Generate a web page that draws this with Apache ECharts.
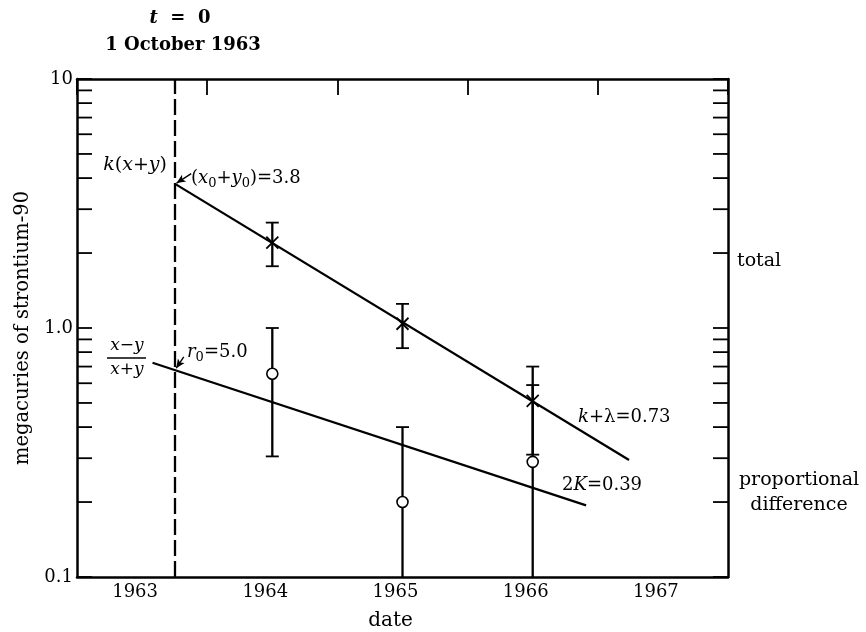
<!DOCTYPE html>
<html>
<head>
<meta charset="utf-8">
<script src="https://cdn.jsdelivr.net/npm/echarts@6/dist/echarts.min.js"></script>
</head>
<body style="margin:0;background:#fff">
<div id="main" style="width:866px;height:632px;"></div>
<script>
// dates are decimal years, t = 0 is 1 October 1963
var yearLabels = ['1963', '1964', '1965', '1966', '1967'];
var yMajor = [0.1, 1, 10];
var yMajorText = ['0.1', '1.0', '10'];
var yMinor = [0.2, 0.3, 0.4, 0.5, 0.6, 0.7, 0.8, 0.9, 2, 3, 4, 5, 6, 7, 8, 9];
var tZero = 1963.75;

var sampleDates = [1964.5, 1965.5, 1966.5];
// total (crosses) with error bars
var totalVal = [2.2, 1.04, 0.51];
var totalLow = [1.77, 0.83, 0.31];
var totalHigh = [2.65, 1.25, 0.70];
// proportional difference (circles) with error bars
var diffVal = [0.655, 0.20, 0.29];
var diffLow = [0.305, 0.1, 0.1];
var diffHigh = [1.0, 0.40, 0.59];

// fitted lines, read at both ends
var totalFit = [[1963.75, 3.8], [1967.24, 0.295]];
var diffFit = [[1963.58, 0.725], [1966.91, 0.194]];

var serif = 'DejaVu Serif';
var black = '#000';

function errorBars(kind, val, low, high) {
	var data = sampleDates.map(function (d, i) { return [d, val[i], low[i], high[i]]; });
	return {
		type: 'custom',
		z: 5,
		silent: true,
		data: data,
		renderItem: function (params, api) {
			var x = api.value(0);
			var p = api.coord([x, api.value(1)]);
			var lo = api.coord([x, api.value(2)]);
			var hi = api.coord([x, api.value(3)]);
			var bottom = params.coordSys.y + params.coordSys.height;
			var bar = {stroke: black, lineWidth: 2.3};
			var cap = {stroke: black, lineWidth: 1.8};
			var kids = [
				{type: 'line', shape: {x1: p[0], y1: hi[1], x2: p[0], y2: lo[1]}, style: bar},
				{type: 'line', shape: {x1: p[0] - 6.5, y1: hi[1], x2: p[0] + 6.5, y2: hi[1]}, style: cap}
			];
			if (lo[1] < bottom - 1) {
				kids.push({type: 'line', shape: {x1: p[0] - 6.5, y1: lo[1], x2: p[0] + 6.5, y2: lo[1]}, style: cap});
			}
			if (kind === 'cross') {
				kids.push({type: 'line', shape: {x1: p[0] - 6, y1: p[1] - 6, x2: p[0] + 6, y2: p[1] + 6}, style: cap});
				kids.push({type: 'line', shape: {x1: p[0] - 6, y1: p[1] + 6, x2: p[0] + 6, y2: p[1] - 6}, style: cap});
			} else {
				kids.push({type: 'circle', shape: {cx: p[0], cy: p[1], r: 5.5}, style: {fill: '#fff', stroke: black, lineWidth: 1.6}});
			}
			return {type: 'group', children: kids};
		}
	};
}

var rich = {
	n: {fontFamily: serif, fontSize: 19, lineHeight: 24, color: black},
	i: {fontFamily: serif, fontSize: 19, lineHeight: 24, fontStyle: 'italic', color: black},
	s: {fontFamily: serif, fontSize: 13, lineHeight: 13, verticalAlign: 'bottom', color: black}
};

function label(x, y, text, align, size) {
	var r = JSON.parse(JSON.stringify(rich));
	if (size) {
		r.n.fontSize = size; r.i.fontSize = size;
	}
	return {
		type: 'text', x: x, y: y, silent: true,
		style: {text: text, rich: r, align: align || 'left', verticalAlign: 'middle', fill: black, font: '19px ' + serif}
	};
}

var axisLine = {onZero: false, lineStyle: {color: black, width: 2.5}};

option = {
	backgroundColor: '#fff',
	animation: false,
	grid: {left: 77, right: 138, top: 79, bottom: 55, outerBoundsMode: 'none', containLabel: false},
	xAxis: [{
		type: 'value',
		position: 'top',
		min: 1963,
		max: 1968,
		interval: 1,
		axisLine: axisLine,
		axisTick: {inside: true, length: 16, lineStyle: {color: black, width: 1.8}},
		axisLabel: {show: false},
		splitLine: {show: false}
	}, {
		type: 'category',
		position: 'bottom',
		data: yearLabels,
		boundaryGap: true,
		axisLine: axisLine,
		axisTick: {inside: true, length: 12, lineStyle: {color: black, width: 1.8}},
		axisLabel: {color: black, fontFamily: serif, fontSize: 18, margin: 6, padding: [0, 14, 0, 0]},
		name: 'date',
		nameLocation: 'middle',
		nameGap: 34,
		nameTextStyle: {color: black, fontFamily: serif, fontSize: 20, padding: [0, 24, 0, 0]}
	}],
	yAxis: [{
		type: 'log',
		logBase: 10,
		min: 0.1,
		max: 10,
		position: 'left',
		axisLine: axisLine,
		axisTick: {inside: true, length: 15, lineStyle: {color: black, width: 1.8}},
		axisLabel: {
			color: black, fontFamily: serif, fontSize: 18, margin: 4,
			formatter: function (v) {
				for (var i = 0; i < yMajor.length; i++) {
					if (Math.abs(Math.log10(v) - Math.log10(yMajor[i])) < 1e-6) return yMajorText[i];
				}
				return '';
			}
		},
		splitLine: {show: false},
		name: 'megacuries of strontium-90',
		nameLocation: 'middle',
		nameGap: 44,
		nameTextStyle: {color: black, fontFamily: serif, fontSize: 19.5}
	}, {
		type: 'log',
		logBase: 10,
		min: 0.1,
		max: 10,
		position: 'right',
		axisLine: axisLine,
		axisTick: {inside: true, length: 15, lineStyle: {color: black, width: 1.8}},
		axisLabel: {show: false},
		splitLine: {show: false}
	}],
	graphic: [
		label(180, 18, '{b|t}{c|  =  0}', 'center'),
		label(183, 45, '{c|1 October 1963}', 'center'),
		label(167, 165, '{i|k}{n|(}{i|x}{n|+}{i|y}{n|)}', 'right'),
		label(191, 178, '{n|(}{i|x}{s|0}{n|+}{i|y}{s|0}{n|)=3.8}', 'left', 18),
		label(127, 346, '{i|x}{n|−}{i|y}', 'center', 17),
		{type: 'line', silent: true, shape: {x1: 107, y1: 358, x2: 146, y2: 358}, style: {stroke: black, lineWidth: 1.6}},
		label(127, 370, '{i|x}{n|+}{i|y}', 'center', 17),
		label(187, 352, '{i|r}{s|0}{n|=5.0}', 'left', 18),
		label(578, 417, '{i|k}{n|+λ=0.73}', 'left', 18),
		label(562, 485, '{n|2}{i|K}{n|=0.39}', 'left', 18),
		label(737, 261, '{n|total}', 'left'),
		label(799, 480, '{n|proportional}', 'center'),
		label(799, 505, '{n|difference}', 'center')
	],
	series: [{
		type: 'line',
		data: totalFit,
		symbol: 'none',
		z: 3,
		lineStyle: {color: black, width: 2.3},
		markLine: {
			silent: true,
			symbol: ['none', 'none'],
			label: {show: false},
			data: [
				{xAxis: tZero, lineStyle: {color: black, width: 2.3, type: [16, 5]}},
				[{coord: [1963.877, 4.17], lineStyle: {color: black, width: 1.4, type: 'solid'}},
				 {coord: [1963.765, 3.82], symbol: 'arrow', symbolSize: [6, 9]}]
			]
		}
	}, {
		type: 'line',
		data: diffFit,
		symbol: 'none',
		z: 3,
		lineStyle: {color: black, width: 2.3},
		markLine: {
			silent: true,
			symbol: ['none', 'none'],
			label: {show: false},
			data: [
				[{coord: [1963.82, 0.765], lineStyle: {color: black, width: 1.4, type: 'solid'}},
				 {coord: [1963.762, 0.69], symbol: 'arrow', symbolSize: [6, 9]}]
			]
		}
	},
	errorBars('cross', totalVal, totalLow, totalHigh),
	errorBars('circle', diffVal, diffLow, diffHigh),
	{
		type: 'custom',
		silent: true,
		z: 4,
		data: yMinor.map(function (v) { return [1963, v]; }),
		renderItem: function (params, api) {
			var cs = params.coordSys;
			var y = api.coord([api.value(0), api.value(1)])[1];
			var st = {stroke: black, lineWidth: 1.8};
			return {type: 'group', children: [
				{type: 'line', shape: {x1: cs.x, y1: y, x2: cs.x + 15, y2: y}, style: st},
				{type: 'line', shape: {x1: cs.x + cs.width - 15, y1: y, x2: cs.x + cs.width, y2: y}, style: st}
			]};
		}
	}]
};

// bold style for the title tokens
option.graphic[0].style.rich.b = {fontFamily: serif, fontSize: 18, fontStyle: 'italic', fontWeight: 'bold', color: black};
option.graphic[0].style.rich.c = {fontFamily: serif, fontSize: 18, fontWeight: 'bold', color: black};
option.graphic[1].style.rich.c = {fontFamily: serif, fontSize: 18, fontWeight: 'bold', color: black};

var myChart = echarts.init(document.getElementById('main'));
myChart.setOption(option);
</script>
</body>
</html>
